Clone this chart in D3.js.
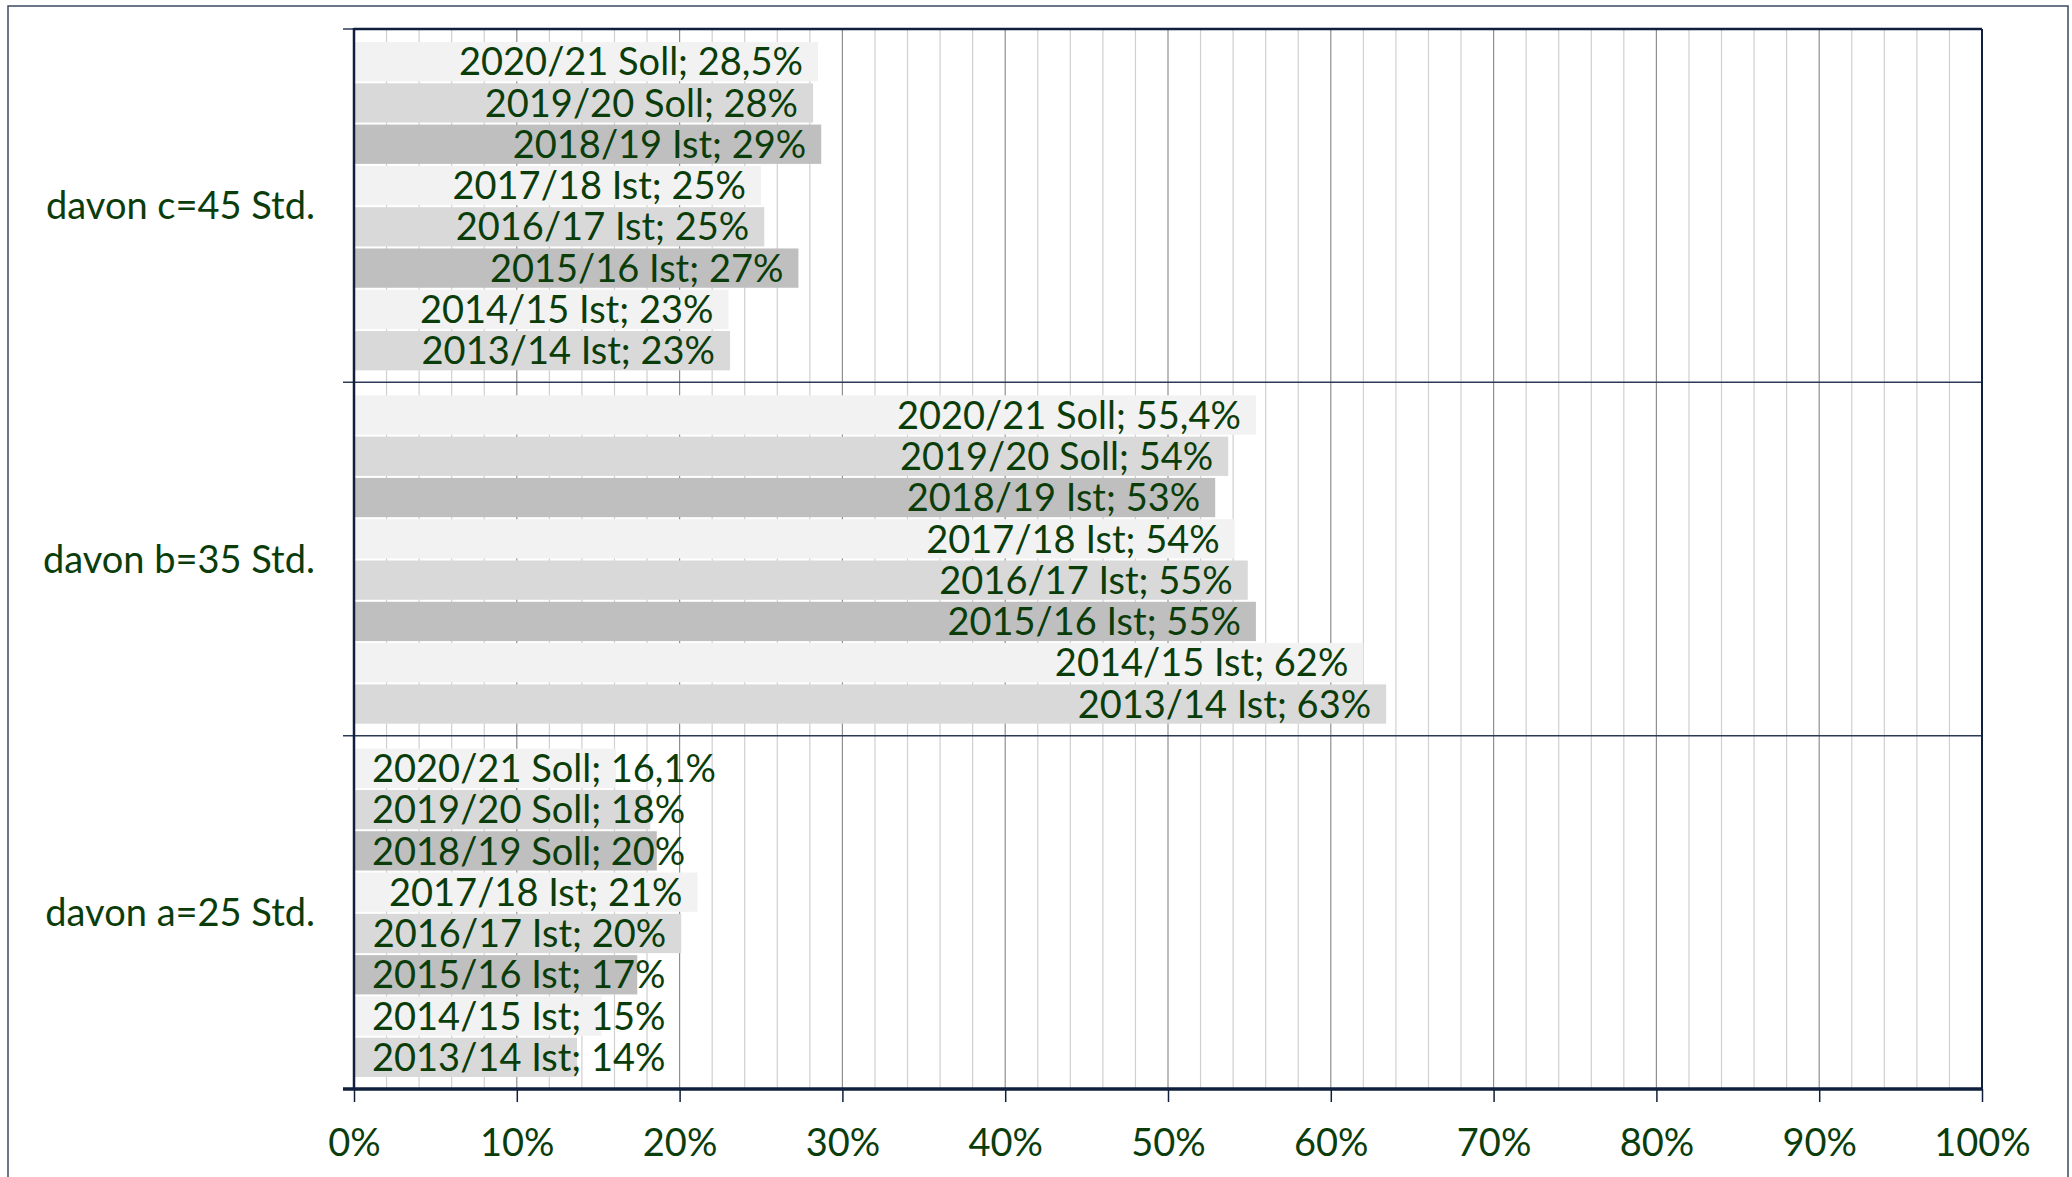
<!DOCTYPE html>
<html>
<head>
<meta charset="utf-8">
<script src="https://cdn.jsdelivr.net/npm/d3@7"></script>
<style>
  html, body { margin: 0; padding: 0; background: #ffffff; }
  svg { display: block; }
</style>
</head>
<body>
<div id="CHART"></div>
<script>
const WIDTH = 2072;
const HEIGHT = 1177;

// plot frame
const LEFT = 354, RIGHT = 1982, TOP = 29, BOTTOM = 1089;

const FONT = "Lato, Carlito, Calibri, sans-serif";
const FONT_SIZE = 38;
const TEXT_COLOR = "#0b3d0b";
const NAVY = "#0f1f3d";

// categories, top to bottom
const categories = ["davon c=45 Std.", "davon b=35 Std.", "davon a=25 Std."];
// school years, bottom to top inside a category
const years = ["2013/14", "2014/15", "2015/16", "2016/17", "2017/18", "2018/19", "2019/20", "2020/21"];
const yearColors = ["#d9d9d9", "#f2f2f2", "#bfbfbf", "#d9d9d9", "#f2f2f2", "#bfbfbf", "#d9d9d9", "#f2f2f2"];

const valuesC = [23.1, 23.0, 27.3, 25.2, 25.0, 28.7, 28.2, 28.5];
const labelsC = ["2013/14 Ist; 23%", "2014/15 Ist; 23%", "2015/16 Ist; 27%", "2016/17 Ist; 25%",
                 "2017/18 Ist; 25%", "2018/19 Ist; 29%", "2019/20 Soll; 28%", "2020/21 Soll; 28,5%"];

const valuesB = [63.4, 62.0, 55.4, 54.9, 54.1, 52.9, 53.7, 55.4];
const labelsB = ["2013/14 Ist; 63%", "2014/15 Ist; 62%", "2015/16 Ist; 55%", "2016/17 Ist; 55%",
                 "2017/18 Ist; 54%", "2018/19 Ist; 53%", "2019/20 Soll; 54%", "2020/21 Soll; 55,4%"];

const valuesA = [13.7, 15.2, 17.4, 20.1, 21.1, 18.6, 18.2, 16.1];
const labelsA = ["2013/14 Ist; 14%", "2014/15 Ist; 15%", "2015/16 Ist; 17%", "2016/17 Ist; 20%",
                 "2017/18 Ist; 21%", "2018/19 Soll; 20%", "2019/20 Soll; 18%", "2020/21 Soll; 16,1%"];

const xTicks = [0, 10, 20, 30, 40, 50, 60, 70, 80, 90, 100];
const xMinor = d3.range(0, 101, 2);

const seriesByCategory = {
  "davon c=45 Std.": [valuesC, labelsC],
  "davon b=35 Std.": [valuesB, labelsB],
  "davon a=25 Std.": [valuesA, labelsA]
};

const svg = d3.select("#CHART").append("svg")
  .attr("width", WIDTH)
  .attr("height", HEIGHT);

svg.append("rect")
  .attr("width", WIDTH).attr("height", HEIGHT).attr("fill", "#ffffff");

// outer chart border (open at the bottom of the picture)
svg.append("rect")
  .attr("x", 8).attr("y", 6)
  .attr("width", 2060).attr("height", HEIGHT + 20)
  .attr("fill", "none")
  .attr("stroke", "#3b4a66")
  .attr("stroke-width", 1.5);

const xScale = d3.scaleLinear().domain([0, 100]).range([LEFT, RIGHT]);
const yScale = d3.scaleBand().domain(categories).range([TOP, BOTTOM]).padding(0);
const bw = yScale.bandwidth();
const yInner = d3.scaleBand().domain(years.slice().reverse()).range([12, bw - 11]).padding(0);

// gridlines
svg.append("g").selectAll("line")
  .data(xMinor.filter(d => d % 10 !== 0))
  .join("line")
  .attr("x1", d => xScale(d)).attr("x2", d => xScale(d))
  .attr("y1", TOP).attr("y2", BOTTOM)
  .attr("stroke", "#d0d0d0").attr("stroke-width", 1.2);

svg.append("g").selectAll("line")
  .data(xTicks.slice(1, -1))
  .join("line")
  .attr("x1", d => xScale(d)).attr("x2", d => xScale(d))
  .attr("y1", TOP).attr("y2", BOTTOM)
  .attr("stroke", "#8f8f8f").attr("stroke-width", 1.2);

// bars + labels
categories.forEach(cat => {
  const [vals, labs] = seriesByCategory[cat];
  const g = svg.append("g").attr("transform", "translate(0," + yScale(cat) + ")");
  const rows = years.map((y, i) => ({year: y, value: vals[i], label: labs[i], color: yearColors[i]}));

  g.selectAll("rect")
    .data(rows)
    .join("rect")
    .attr("x", xScale(0))
    .attr("y", d => yInner(d.year) + 1)
    .attr("width", d => xScale(d.value) - xScale(0))
    .attr("height", yInner.bandwidth() - 2)
    .attr("fill", d => d.color);

  const txt = g.selectAll("text")
    .data(rows)
    .join("text")
    .attr("y", d => yInner(d.year) + yInner.bandwidth() / 2)
    .attr("dy", "0.36em")
    .style("font-family", FONT)
    .style("font-size", FONT_SIZE + "px")
    .attr("fill", TEXT_COLOR)
    .text(d => d.label);

  txt.each(function(d) {
    const w = this.getComputedTextLength();
    let start = xScale(d.value) - 15 - w;
    if (start < xScale(0) + 18) start = xScale(0) + 18;
    d3.select(this).attr("x", start);
  });
});

// category separators
svg.append("g").selectAll("line")
  .data(categories.slice(1))
  .join("line")
  .attr("x1", LEFT - 11).attr("x2", RIGHT)
  .attr("y1", d => yScale(d)).attr("y2", d => yScale(d))
  .attr("stroke", "#2c3a58").attr("stroke-width", 1.5);

// y ticks at band edges
svg.append("g").selectAll("line")
  .data([TOP, BOTTOM])
  .join("line")
  .attr("x1", LEFT - 11).attr("x2", LEFT)
  .attr("y1", d => d).attr("y2", d => d)
  .attr("stroke", "#2c3a58").attr("stroke-width", 1.5);

// frame
svg.append("line").attr("x1", LEFT).attr("x2", RIGHT).attr("y1", TOP).attr("y2", TOP)
  .attr("stroke", NAVY).attr("stroke-width", 2.5);
svg.append("line").attr("x1", RIGHT).attr("x2", RIGHT).attr("y1", TOP).attr("y2", BOTTOM)
  .attr("stroke", NAVY).attr("stroke-width", 2);
svg.append("line").attr("x1", LEFT).attr("x2", LEFT).attr("y1", TOP - 1).attr("y2", BOTTOM)
  .attr("stroke", NAVY).attr("stroke-width", 2.5);

// category labels
svg.append("g").selectAll("text")
  .data(categories)
  .join("text")
  .attr("x", 315)
  .attr("y", d => yScale(d) + bw / 2)
  .attr("dy", "0.36em")
  .attr("text-anchor", "end")
  .style("font-family", FONT)
  .style("font-size", FONT_SIZE + "px")
  .attr("fill", TEXT_COLOR)
  .text(d => d);

// x axis
const xAxis = svg.append("g")
  .attr("transform", "translate(0," + BOTTOM + ")")
  .call(d3.axisBottom(xScale).tickValues(xTicks).tickFormat(d => d + "%").tickSize(13).tickPadding(27));
xAxis.select(".domain").remove();
xAxis.selectAll(".tick line").attr("stroke", NAVY).attr("stroke-width", 1.5);
xAxis.selectAll(".tick text")
  .style("font-family", FONT)
  .style("font-size", FONT_SIZE + "px")
  .attr("fill", TEXT_COLOR);

svg.append("line").attr("x1", LEFT - 11).attr("x2", RIGHT + 1).attr("y1", BOTTOM).attr("y2", BOTTOM)
  .attr("stroke", NAVY).attr("stroke-width", 3.5);
</script>
</body>
</html>
